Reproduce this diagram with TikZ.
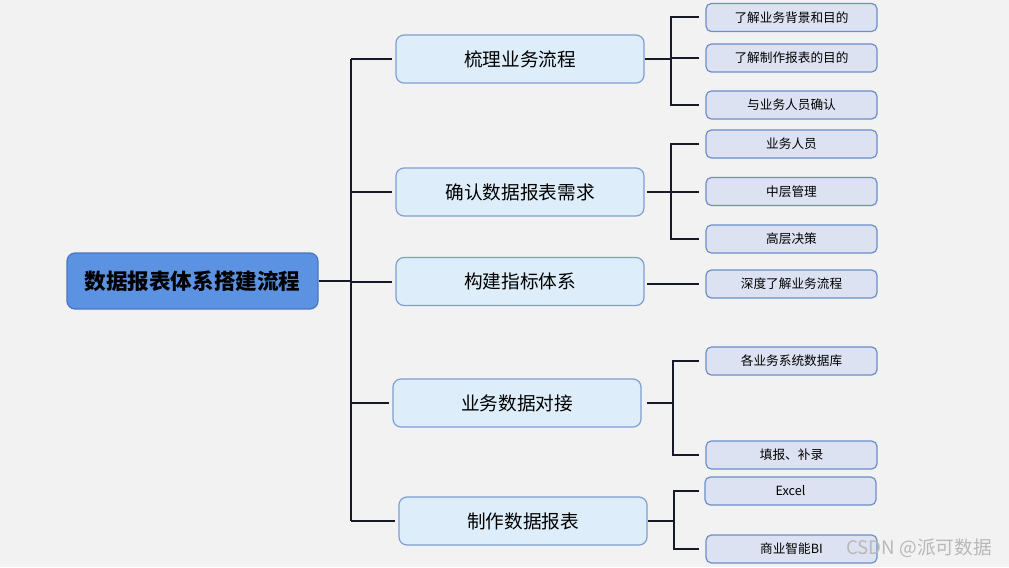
\documentclass[tikz,border=0pt]{standalone}
\usepackage{fontspec}
\setmainfont{Noto Sans CJK SC}
\begin{document}
\begin{tikzpicture}[x=0.75pt,y=-0.75pt,
  rootbox/.style={draw=rootline,fill=rootfill,line width=0.9pt,rounded corners=6pt,minimum width=188.25pt,minimum height=42pt,inner sep=0pt,font=\fontsize{16.2}{19}\selectfont\bfseries},
  midbox/.style={draw=midline,fill=midfill,line width=0.9pt,rounded corners=6pt,minimum width=186pt,minimum height=36pt,inner sep=0pt,font=\fontsize{14}{17}\selectfont},
  leafbox/.style={draw=leafline,fill=leaffill,line width=0.9pt,rounded corners=4pt,minimum width=128.25pt,minimum height=21pt,inner sep=0pt,font=\fontsize{9.5}{11}\selectfont},
  conn/.style={draw=connc,line width=1.5pt}]
\definecolor{bg}{HTML}{F2F2F2}
\definecolor{rootfill}{HTML}{5B92E2}
\definecolor{rootline}{HTML}{4A78C0}
\definecolor{midfill}{HTML}{DDEEFA}
\definecolor{midline}{HTML}{7E9FCF}
\definecolor{leaffill}{HTML}{DDE2F2}
\definecolor{leafline}{HTML}{6C8EC8}
\definecolor{connc}{HTML}{151A26}
\definecolor{wm}{HTML}{B8B8B8}
\fill[bg] (0,0) rectangle (1009,567);
\useasboundingbox (0,0) rectangle (1009,567);

\node[rootbox] (root) at (192.5,281) {\raisebox{-1pt}{数据报表体系搭建流程}};

\node[midbox] (b1) at (520,59) {梳理业务流程};
\node[midbox] (b2) at (520,192) {确认数据报表需求};
\node[midbox] (b3) at (520,281.5) {构建指标体系};
\node[midbox] (b4) at (517,403) {业务数据对接};
\node[midbox] (b5) at (523,521) {制作数据报表};

\node[leafbox] (l11) at (791.5,17.5) {了解业务背景和目的};
\node[leafbox] (l12) at (791.5,58) {了解制作报表的目的};
\node[leafbox] (l13) at (791.5,105) {与业务人员确认};
\node[leafbox] (l21) at (791.5,144) {业务人员};
\node[leafbox] (l22) at (791.5,191.5) {中层管理};
\node[leafbox] (l23) at (791.5,239) {高层决策};
\node[leafbox] (l31) at (791.5,284) {深度了解业务流程};
\node[leafbox] (l41) at (791.5,361) {各业务系统数据库};
\node[leafbox] (l42) at (791.5,455) {填报、补录};
\node[leafbox] (l51) at (790.5,491) {Excel};
\node[leafbox] (l52) at (791.5,549) {商业智能BI};

\coordinate (T) at (351,0);
\coordinate (R1) at (671,0);
\coordinate (R4) at (673,0);
\coordinate (R5) at (674,0);

% trunk
\draw[conn] (root.east) -- (root.east -| T);
\draw[conn] (T |- b1) -- (T |- b5);
\foreach \b in {b1,b2,b3,b4,b5}{
  \draw[conn] (T |- \b) -- ([xshift=-2.5pt]\b.west);
}

% group 1
\draw[conn] (b1.east) -- (R1 |- b1);
\draw[conn] ([xshift=-4.5pt]l11.west) -| (R1 |- l13) -- ([xshift=-4.5pt]l13.west);
\draw[conn] (R1 |- l12) -- ([xshift=-4.5pt]l12.west);
% group 2
\draw[conn] ([xshift=2pt]b2.east) -- (R1 |- b2);
\draw[conn] ([xshift=-4.5pt]l21.west) -| (R1 |- l23) -- ([xshift=-4.5pt]l23.west);
\draw[conn] (R1 |- l22) -- ([xshift=-4.5pt]l22.west);
% group 3
\draw[conn] ([xshift=2pt]b3.east |- l31) -- ([xshift=-4.5pt]l31.west);
% group 4
\draw[conn] ([xshift=4pt]b4.east) -- (R4 |- b4);
\draw[conn] ([xshift=-4.5pt]l41.west) -| (R4 |- l42) -- ([xshift=-4.5pt]l42.west);
% group 5
\draw[conn] (b5.east) -- (R5 |- b5);
\draw[conn] ([xshift=-4pt]l51.west) -| (R5 |- l52) -- ([xshift=-4.5pt]l52.west);

\node[text=wm,font=\fontsize{14}{16}\selectfont,anchor=center] (wmk) at (919,548) {CSDN @派可数据};
\end{tikzpicture}
\end{document}
